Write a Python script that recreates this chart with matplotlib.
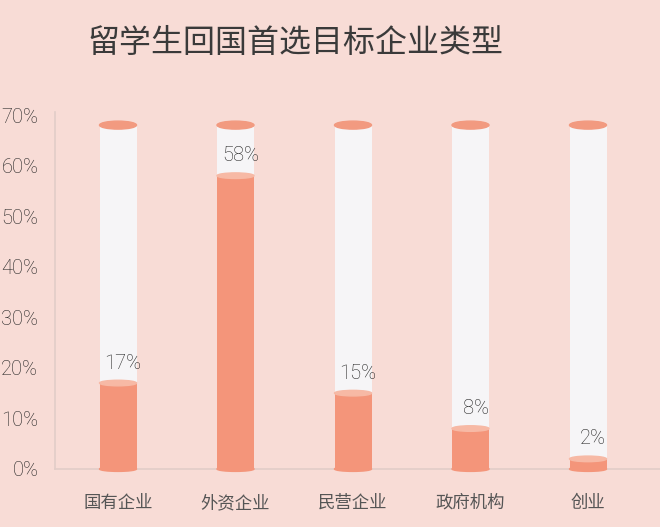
import matplotlib
matplotlib.use("Agg")
import matplotlib.pyplot as plt
from matplotlib.patches import Ellipse
import numpy as np

plt.rcParams['font.family'] = ['Roboto', 'Noto Sans CJK SC', 'DejaVu Sans']

categories = ['国有企业', '外资企业', '民营企业', '政府机构', '创业']
values = [17, 58, 15, 8, 2]
labels = ['17%', '58%', '15%', '8%', '2%']
column_max = 68
yticks = [0, 10, 20, 30, 40, 50, 60, 70]
title = '留学生回国首选目标企业类型'

BG = '#f8dcd6'
ORANGE = '#f4957a'
CAP = '#f29a80'
WHITE = '#f6f5f7'
TEXT = '#222222'

W, H = 660, 527
fig = plt.figure(figsize=(W / 100, H / 100), dpi=100)
fig.patch.set_facecolor(BG)

ax_left, ax_bottom_px, ax_top_px = 55, 469, 112
ax = fig.add_axes([ax_left / W, (H - ax_bottom_px) / H, (W - ax_left) / W, (ax_bottom_px - ax_top_px) / H])
ax.set_facecolor(BG)

px_per_unit = (469 - 115) / 70.0
ax.set_ylim(0, (ax_bottom_px - ax_top_px) / px_per_unit)
spacing = 117.5
ax.set_xlim((ax_left - 118) / spacing, (W - 118) / spacing)

x = np.arange(len(categories))
bw = 37 / spacing
cap_h = 8 / px_per_unit

# background columns
ax.bar(x, [column_max] * len(x), width=bw, color=WHITE, zorder=2)
# filled values
ax.bar(x, values, width=bw, color=ORANGE, zorder=3)
for xi, v, lab in zip(x, values, labels):
    ax.add_patch(Ellipse((xi, column_max), bw, cap_h, color=CAP, zorder=4))
    ax.add_patch(Ellipse((xi, v), bw, cap_h * 0.7, color='#f7b9a5', zorder=4))
    ax.add_patch(Ellipse((xi, 0), bw, cap_h * 0.6, color=ORANGE, zorder=3, clip_on=False))
    ax.text(xi + 5 / spacing, v + 20 / px_per_unit, lab, ha='center', va='center',
            fontsize=14.5, color=TEXT, zorder=5, fontweight='light')

ax.set_yticks(yticks)
ax.set_yticklabels([f'{t}%' for t in yticks], fontsize=14.5, color=TEXT, fontweight='light')
ax.tick_params(axis='y', length=0, pad=12)
ax.set_xticks(x)
ax.set_xticklabels(categories, fontsize=12.5, color='#555555', family=['Noto Sans CJK SC', 'DejaVu Sans'])
ax.tick_params(axis='x', length=0, pad=18)

for s in ['top', 'right']:
    ax.spines[s].set_visible(False)
for s in ['left', 'bottom']:
    ax.spines[s].set_color('#e2cdc8')
    ax.spines[s].set_linewidth(1.2)

fig.text(296 / W, 1 - 43 / H, title, ha='center', va='center', fontsize=23,
         color='#3a3a3a', family=['Noto Sans CJK SC', 'DejaVu Sans'])

fig.savefig('out.png', dpi=100, facecolor=BG)
